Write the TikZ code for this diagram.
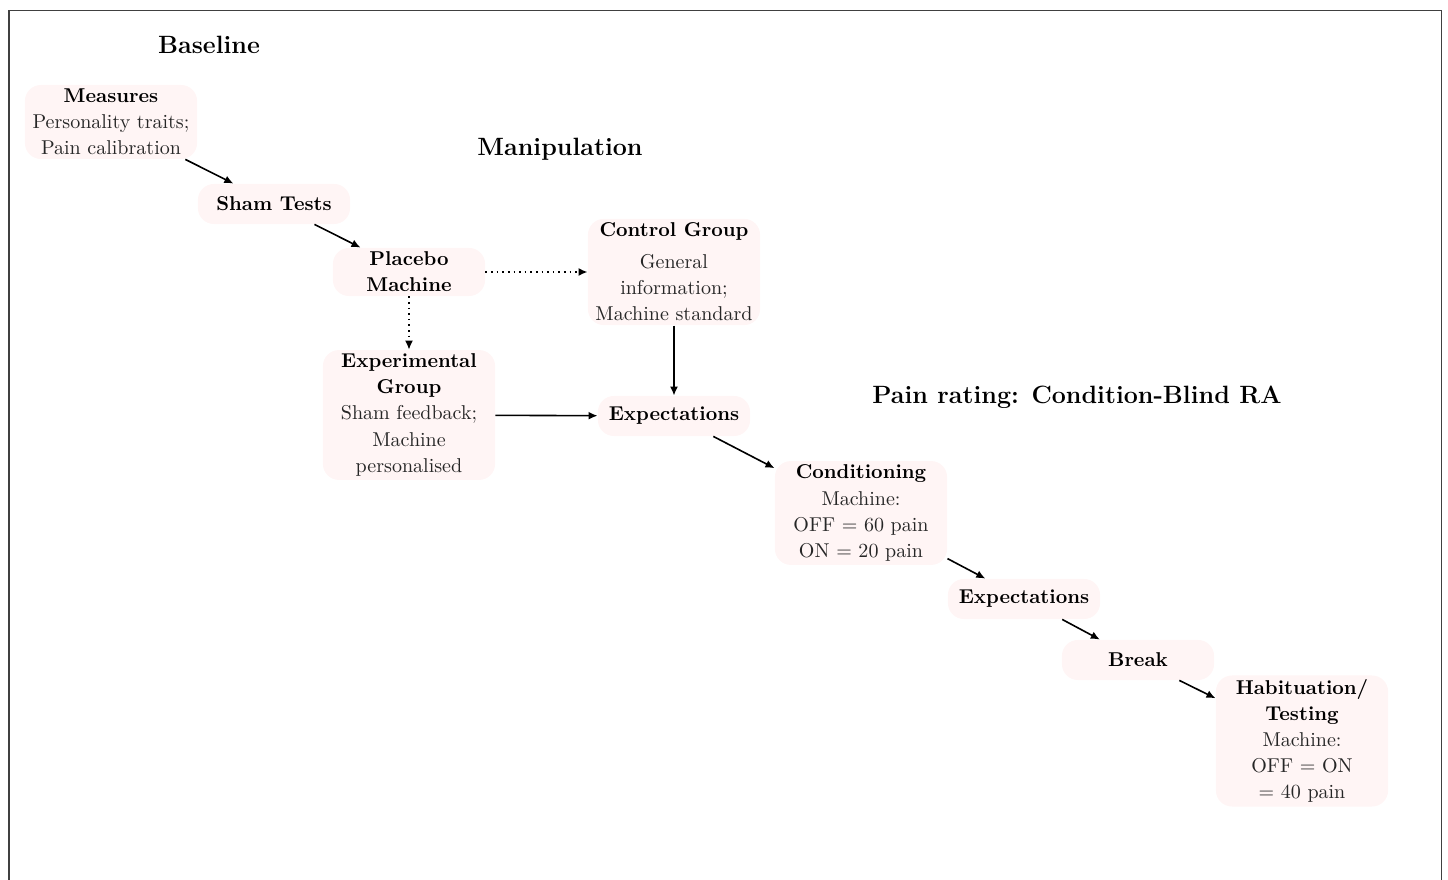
\documentclass[tikz,border=0pt]{standalone}
\usepackage{tikz}
\usetikzlibrary{arrows.meta,positioning,calc}
\usepackage{xcolor}
\usepackage{amsmath}
\definecolor{palepink}{HTML}{FFF5F5}
\definecolor{framegray}{HTML}{404040}
\definecolor{bodytext}{HTML}{262626}
\tikzset{
  stagebox/.style={rounded corners=8pt, align=center, fill=palepink, inner xsep=3pt, inner ysep=2pt,
    text=bodytext, font=\fontsize{10}{13}\selectfont},
  smallbox/.style={stagebox, minimum width=76pt, minimum height=20pt},
  largebox/.style={stagebox, minimum width=86pt},
  phase/.style={font=\fontsize{12.5}{15}\selectfont\bfseries},
  arrow/.style={-{Latex[length=4.5pt,width=4pt]}, thick, draw=black},
  dottedarrow/.style={arrow, dotted}
}
\newcommand{\stagetitle}[1]{\textcolor{black}{\textbf{#1}}}

\begin{document}
\begin{tikzpicture}[x=0.4995pt, y=-0.4995pt]
  \useasboundingbox (0,0) rectangle (1448,880);
  % frame (open at the bottom)
  \draw[framegray, line width=0.8pt] (9,880) -- (9,10.5) -- (1441.5,10.5) -- (1441.5,880);

  % phase headings
  \node[phase] (baseline) at (209,45) {Baseline};
  \node[phase] (manip) at (560,149) {Manipulation};
  \node[phase] (rating) at (1077,397) {Pain rating: Condition-Blind RA};

  % stages
  \node[largebox] (measures) at (111,122) {\stagetitle{Measures}\\Personality traits;\\Pain calibration};
  \node[smallbox] (sham) at (274,204) {\stagetitle{Sham Tests}};
  \node[smallbox] (placebo) at (409,272) {\stagetitle{Placebo}\\\stagetitle{Machine}};
  \node[largebox] (control) at (674,272) {\stagetitle{Control Group}\\[3pt]General\\information;\\Machine standard};
  \node[largebox] (experimental) at (409,415) {\stagetitle{Experimental}\\\stagetitle{Group}\\Sham feedback;\\Machine\\personalised};
  \node[smallbox] (expect1) at (674,416) {\stagetitle{Expectations}};
  \node[largebox] (conditioning) at (861,513) {\stagetitle{Conditioning}\\Machine:\\OFF $=$ 60 pain\\ON $=$ 20 pain};
  \node[smallbox] (expect2) at (1024,599) {\stagetitle{Expectations}};
  \node[smallbox] (brk) at (1138,660) {\stagetitle{Break}};
  \node[largebox] (habituation) at (1302,741) {\stagetitle{Habituation/}\\\stagetitle{Testing}\\Machine:\\OFF $=$ ON\\$=$ 40 pain};

  % connectors
  \draw[arrow] (measures) -- (sham);
  \draw[arrow] (sham) -- (placebo);
  \draw[dottedarrow] (placebo) -- (control);
  \draw[dottedarrow] (placebo) -- (experimental);
  \draw[arrow] (experimental) -- (expect1);
  \draw[arrow] (control) -- (expect1);
  \draw[arrow] (expect1) -- (conditioning);
  \draw[arrow] (conditioning) -- (expect2);
  \draw[arrow] (expect2) -- (brk);
  \draw[arrow] (brk) -- (habituation);
\end{tikzpicture}
\end{document}
